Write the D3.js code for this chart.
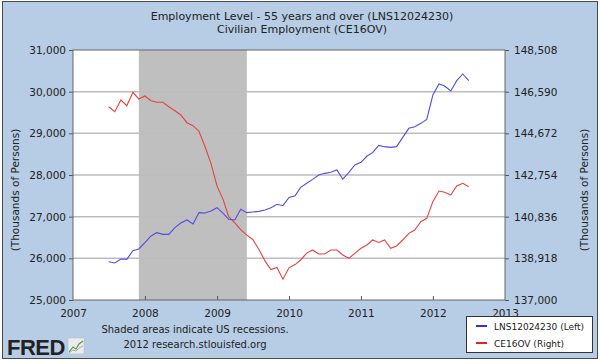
<!DOCTYPE html>
<html>
<head>
<meta charset="utf-8">
<script src="https://cdn.jsdelivr.net/npm/d3@7"></script>
<style>
  html, body { margin: 0; padding: 0; background: #fff; }
  svg { display: block; }
  text { font-family: "DejaVu Sans", Verdana, sans-serif; fill: #222; }
</style>
</head>
<body>
<svg id="chart" width="600" height="362"></svg>
<script>
// ---- Data ----
const titleLines = ["Employment Level - 55 years and over (LNS12024230)", "Civilian Employment (CE16OV)"];
const startMonth = "2007-07";
const endMonth = "2012-07";
const lnsValues = [
  25920, 25888, 25984, 25976, 26184, 26224, 26376, 26536, 26616, 26576,
  26576, 26736, 26848, 26920, 26824, 27096, 27088, 27136, 27216, 27080,
  26936, 26920, 27176, 27096, 27112, 27128, 27160, 27216, 27296, 27264,
  27460, 27500, 27704, 27800, 27896, 28000, 28040, 28064, 28120, 27904,
  28064, 28240, 28304, 28456, 28536, 28710, 28680, 28664, 28680, 28904,
  29120, 29160, 29240, 29336, 29920, 30184, 30136, 30016, 30264, 30424,
  30264
];
const ceValues = [
  145898, 145668, 146207, 145944, 146561, 146253, 146391, 146176, 146100, 146100,
  145898, 145714, 145516, 145162, 145023, 144770, 144057, 143290, 142240, 141620,
  140835, 140550, 140240, 139985, 139785, 139340, 138800, 138400, 138500, 137960,
  138480, 138630, 138842, 139160, 139302, 139118, 139118, 139302, 139302, 139072,
  138918, 139149, 139379, 139532, 139762, 139650, 139760, 139379, 139487, 139762,
  140069, 140223, 140606, 140760, 141527, 142017, 141957, 141834, 142248, 142372,
  142216
];
const leftTicks = [25000, 26000, 27000, 28000, 29000, 30000, 31000];
const rightTicks = [137000, 138918, 140836, 142754, 144672, 146590, 148508];
const yearTicks = [2007, 2008, 2009, 2010, 2011, 2012, 2013];
const recession = ["2007-12-01", "2009-06-01"];
const legendLabels = ["LNS12024230 (Left)", "CE16OV (Right)"];
const axisTitle = "(Thousands of Persons)";
const footLines = ["Shaded areas indicate US recessions.", "2012 research.stlouisfed.org"];

// ---- Build ----
const parseM = d3.timeParse("%Y-%m");
const months = d3.timeMonth.range(parseM(startMonth), d3.timeMonth.offset(parseM(endMonth), 1));
const lns = months.map((d, i) => ({ date: d, v: lnsValues[i] }));
const ce = months.map((d, i) => ({ date: d, v: ceValues[i] }));

const svg = d3.select("#chart");
const W = 600, H = 362;
const L = 73, R = 505, T = 50, B = 300;

svg.append("rect").attr("x", 0).attr("y", 0).attr("width", W).attr("height", H).attr("fill", "#fff");
svg.append("rect").attr("x", 2.5).attr("y", 1.5).attr("width", 595).attr("height", 357)
  .attr("fill", "#B7CDE5").attr("stroke", "#4a4a4a").attr("stroke-width", 1);

const x = d3.scaleTime().domain([new Date(2007, 0, 1), new Date(2013, 0, 1)]).range([L, R]);
const yL = d3.scaleLinear().domain([leftTicks[0], leftTicks[leftTicks.length - 1]]).range([B, T]);
const yR = d3.scaleLinear().domain([rightTicks[0], rightTicks[rightTicks.length - 1]]).range([B, T]);

// Titles
svg.selectAll("text.title").data(titleLines).enter().append("text")
  .attr("class", "title").attr("x", 302).attr("y", (d, i) => 20 + i * 13)
  .attr("text-anchor", "middle").style("font-size", "11px").text(d => d);

// Plot background
svg.append("rect").attr("x", L).attr("y", T).attr("width", R - L).attr("height", B - T).attr("fill", "#fff");

// Recession shading
svg.append("rect")
  .attr("x", x(new Date(recession[0]))).attr("y", T)
  .attr("width", x(new Date(recession[1])) - x(new Date(recession[0])))
  .attr("height", B - T).attr("fill", "#BFBFBF");

// Gridlines
svg.append("g").selectAll("line").data(leftTicks.slice(1, -1)).enter().append("line")
  .attr("x1", L).attr("x2", R).attr("y1", d => yL(d)).attr("y2", d => yL(d))
  .attr("stroke", "#BDBDBD").attr("stroke-width", 1.5);

// Left axis
const axL = d3.axisLeft(yL).tickValues(leftTicks).tickSize(4).tickPadding(3).tickFormat(d3.format(","));
const gL = svg.append("g").attr("transform", `translate(${L},0)`).call(axL);
// Right axis
const axR = d3.axisRight(yR).tickValues(rightTicks).tickSize(4).tickPadding(5).tickFormat(d3.format(","));
const gR = svg.append("g").attr("transform", `translate(${R},0)`).call(axR);
// Bottom axis (ticks inside)
const axB = d3.axisBottom(x).tickValues(yearTicks.map(y => new Date(y, 0, 1)))
  .tickSize(-4).tickPadding(10).tickFormat(d3.timeFormat("%Y"));
const gB = svg.append("g").attr("transform", `translate(0,${B})`).call(axB);

[gL, gR, gB].forEach(g => {
  g.selectAll(".domain").remove();
  g.selectAll("line").attr("stroke", "#555");
  g.selectAll("text").style("font-size", "10.5px").attr("fill", "#222")
    .style("font-family", '"DejaVu Sans", Verdana, sans-serif');
});
gB.selectAll(".tick").filter((d, i) => i === 0 || i === yearTicks.length - 1).select("line").remove();

// Plot frame
svg.append("rect").attr("x", L).attr("y", T).attr("width", R - L).attr("height", B - T)
  .attr("fill", "none").attr("stroke", "#666").attr("stroke-width", 1);

// Lines
const lineL = d3.line().x(d => x(d.date)).y(d => yL(d.v));
const lineR = d3.line().x(d => x(d.date)).y(d => yR(d.v));
svg.append("path").datum(ce).attr("d", lineR).attr("fill", "none")
  .attr("stroke", "#E8413F").attr("stroke-width", 1.1);
svg.append("path").datum(lns).attr("d", lineL).attr("fill", "none")
  .attr("stroke", "#4F4FE3").attr("stroke-width", 1.1);

// Axis titles
svg.append("text").attr("transform", "translate(19,190) rotate(-90)")
  .attr("text-anchor", "middle").style("font-size", "10.5px").text(axisTitle);
svg.append("text").attr("transform", "translate(588,190) rotate(-90)")
  .attr("text-anchor", "middle").style("font-size", "10.5px").text(axisTitle);

// Footer
svg.selectAll("text.foot").data(footLines).enter().append("text")
  .attr("class", "foot").attr("x", 195).attr("y", (d, i) => 333 + i * 15)
  .attr("text-anchor", "middle").style("font-size", "10px").text(d => d);

// FRED logo
svg.append("text").attr("x", 7).attr("y", 355)
  .style("font-family", '"Liberation Sans", Arial, sans-serif').style("font-weight", "bold")
  .style("font-size", "22px").attr("fill", "#111").style("letter-spacing", "-0.5px").text("FRED");
const ic = svg.append("g").attr("transform", "translate(68,338)");
ic.append("rect").attr("width", 16).attr("height", 16).attr("fill", "#e8ecef").attr("stroke", "#bbb").attr("stroke-width", 0.5);
ic.append("path").attr("d", "M1,14 L5,9 L8,11 L11,6 L15,3").attr("fill", "none").attr("stroke", "#5a9a4a").attr("stroke-width", 1.2);
ic.append("path").attr("d", "M1,15 L5,12 L8,13 L11,10 L15,8").attr("fill", "none").attr("stroke", "#999").attr("stroke-width", 0.8);

// Legend
const lg = svg.append("g");
lg.append("rect").attr("x", 466.5).attr("y", 316.5).attr("width", 126).attr("height", 36)
  .attr("fill", "#fff").attr("stroke", "#333").attr("stroke-width", 1);
const lgColors = ["#3333DD", "#E82020"];
legendLabels.forEach((t, i) => {
  const yy = 326 + i * 17;
  lg.append("line").attr("x1", 476).attr("x2", 487).attr("y1", yy).attr("y2", yy)
    .attr("stroke", lgColors[i]).attr("stroke-width", 2);
  lg.append("text").attr("x", 494).attr("y", yy + 3.5).style("font-size", "9px").text(t);
});
</script>
</body>
</html>
